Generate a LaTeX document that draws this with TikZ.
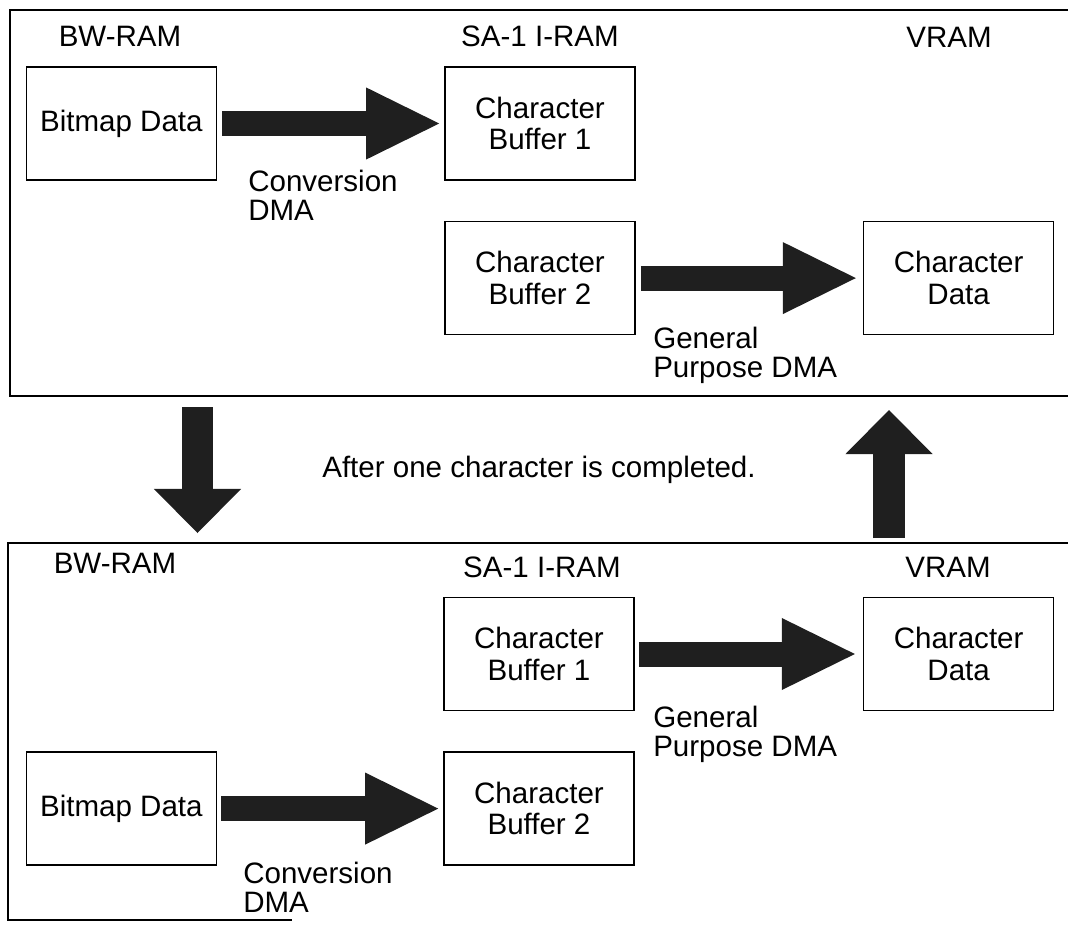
\documentclass[tikz,border=0pt]{standalone}
\usepackage{fontspec}
\setmainfont{Liberation Sans}
\usetikzlibrary{arrows.meta, positioning}

\begin{document}
\begin{tikzpicture}[
  x=0.025cm, y=-0.025cm,
  every node/.style={font=\fontsize{21}{22.5}\selectfont},
  mem/.style={draw, line width=1.1pt, minimum width=4.75cm, minimum height=2.825cm, align=center, inner sep=0pt},
  area/.style={inner sep=0pt},
  dma/.style={align=left, anchor=north west, inner sep=0pt, font=\fontsize{21}{20.5}\selectfont},
  panel/.style={line width=1.2pt},
  flow/.style={draw=black!88, line width=0.625cm, -{Triangle[length=1.825cm, width=1.8cm, line width=0pt]}},
  swap/.style={draw=black!88, line width=0.78cm, -{Triangle[length=1.1cm, width=2.175cm, line width=0pt]}}
]
\useasboundingbox (0,0) rectangle (1068,927);

% before
\draw[panel] (1068,10) -- (10,10) -- (10,396) -- (1068,396);
\node[area] (bw1) at (120,36) {BW-RAM};
\node[area] (ir1) at (540,36) {SA-1 I-RAM};
\node[area] (vr1) at (949,37) {VRAM};
\node[mem] (cb1a) at (540,123.5) {Character\\Buffer 1};
\node[mem, below=1cm of cb1a] (cb2a) {Character\\Buffer 2};
\node[mem, left=5.675cm of cb1a] (bmp1) {Bitmap Data};
\node[mem, right=5.675cm of cb2a] (cda) {Character\\Data};
\draw[flow] ([xshift=0.125cm]bmp1.east) -- ([xshift=-0.125cm]cb1a.west);
\draw[flow] ([xshift=0.125cm]cb2a.east) -- ([xshift=-0.175cm]cda.west);
\node[dma] (conv1) at (248,170) {Conversion\\DMA};
\node[dma] (gp1) at (653,327) {General\\Purpose DMA};

% swap of the buffers
\coordinate (down-from) at (197.5,407);
\coordinate (down-to) at (197.5,533);
\coordinate (up-from) at (889,538);
\coordinate (up-to) at (889,410);
\draw[swap] (down-from) -- (down-to);
\draw[swap] (up-from) -- (up-to);
\node[area] (note) at (539,470) {After one character is completed.};

% after
\draw[panel] (1068,543) -- (8,543) -- (8,920) -- (292,920);
\node[area] (bw2) at (115,563) {BW-RAM};
\node[area] (ir2) at (542,567) {SA-1 I-RAM};
\node[area] (vr2) at (948,567) {VRAM};
\node[mem] (cb1b) at (539,654) {Character\\Buffer 1};
\node[mem, below=1cm of cb1b] (cb2b) {Character\\Buffer 2};
\node[mem, left=5.65cm of cb2b] (bmp2) {Bitmap Data};
\node[mem, right=5.7cm of cb1b] (cdb) {Character\\Data};
\draw[flow] ([xshift=0.1cm]cb1b.east) -- ([xshift=-0.2cm]cdb.west);
\draw[flow] ([xshift=0.1cm]bmp2.east) -- ([xshift=-0.125cm]cb2b.west);
\node[dma] (gp2) at (653,706) {General\\Purpose DMA};
\node[dma] (conv2) at (243,862) {Conversion\\DMA};
\end{tikzpicture}
\end{document}
